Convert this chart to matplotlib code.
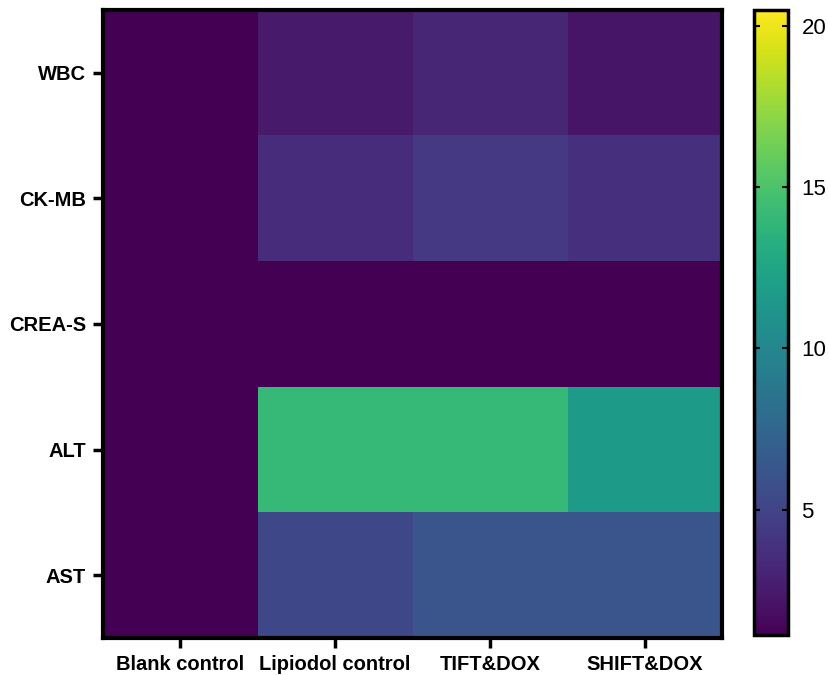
import numpy as np
import matplotlib.pyplot as plt

plt.rcParams['font.family'] = ['Liberation Sans', 'DejaVu Sans']

groups = ["Blank control", "Lipiodol control", "TIFT&DOX", "SHIFT&DOX"]
markers = ["WBC", "CK-MB", "CREA-S", "ALT", "AST"]

# fold change per marker
wbc = [1.1, 2.5, 3.2, 2.2]
ckmb = [1.1, 3.6, 4.3, 3.7]
crea = [1.1, 1.1, 1.1, 1.1]
alt = [1.1, 14.1, 14.1, 11.7]
ast = [1.1, 5.3, 6.2, 6.2]

data = np.array([wbc, ckmb, crea, alt, ast])

fig = plt.figure(figsize=(8.29, 6.75), dpi=100)
ax = fig.add_axes([0.124, 0.055, 0.747, 0.93])
cax = fig.add_axes([0.910, 0.059, 0.040, 0.926])

im = ax.imshow(data, cmap="viridis", vmin=1.1, vmax=20.5, aspect="auto",
               interpolation="nearest")

ax.set_xticks(range(len(groups)))
ax.set_xticklabels(groups, fontsize=14.5, fontweight="bold")
ax.set_yticks(range(len(markers)))
ax.set_yticklabels(markers, fontsize=14.5, fontweight="bold")
ax.tick_params(width=2.5, length=7, pad=5)
for s in ax.spines.values():
    s.set_linewidth(3)

cb = fig.colorbar(im, cax=cax)
cb.set_ticks([5, 10, 15, 20])
cb.outline.set_linewidth(2.5)
cax.tick_params(labelsize=16, width=1.5, length=4, direction="in",
                left=True, right=True, pad=10)

fig.savefig("out.png", dpi=100)
